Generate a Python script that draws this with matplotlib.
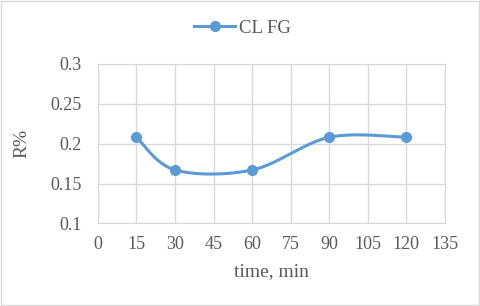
import numpy as np
import matplotlib.pyplot as plt

plt.rcParams['font.family'] = ['Liberation Serif', 'DejaVu Serif']

# data
time_min = [15, 30, 60, 90, 120]
r_pct = [0.208, 0.167, 0.167, 0.208, 0.208]
x_ticks = [0, 15, 30, 45, 60, 75, 90, 105, 120, 135]
y_ticks = [0.1, 0.15, 0.2, 0.25, 0.3]
y_labels = ['0.1', '0.15', '0.2', '0.25', '0.3']


def smooth(xs, ys, n=40):
    # Excel-like smoothed line: cubic Bezier with Catmull-Rom control points
    p = np.column_stack([xs, ys]).astype(float)
    pts = [p[0]]
    for i in range(len(p) - 1):
        p0 = p[i - 1] if i > 0 else p[i]
        p1, p2 = p[i], p[i + 1]
        p3 = p[i + 2] if i + 2 < len(p) else p[i + 1]
        c1 = p1 + (p2 - p0) / 6
        c2 = p2 - (p3 - p1) / 6
        t = np.linspace(0, 1, n)[1:, None]
        seg = ((1 - t) ** 3) * p1 + 3 * ((1 - t) ** 2) * t * c1 + 3 * (1 - t) * t ** 2 * c2 + t ** 3 * p2
        pts.extend(seg)
    pts = np.array(pts)
    return pts[:, 0], pts[:, 1]


fig = plt.figure(figsize=(4.8, 3.06), dpi=100)
ax = fig.add_axes([0.204, 0.27, 0.723, 0.521])

blue = '#5B9BD5'
sx, sy = smooth(time_min, r_pct)
ax.plot(sx, sy, color=blue, lw=2.2, zorder=3)
ax.plot(time_min, r_pct, 'o', color=blue, ms=7, zorder=4)
ax.plot([], [], '-o', color=blue, lw=2.2, ms=7, label='CL FG')

ax.set_xlim(0, 135)
ax.set_ylim(0.1, 0.3)
ax.set_xticks(x_ticks)
ax.set_yticks(y_ticks)
ax.set_yticklabels(y_labels)
ax.grid(True, color='#D9D9D9', lw=1)
ax.set_axisbelow(True)
for s in ax.spines.values():
    s.set_color('#D9D9D9')
ax.tick_params(axis='y', length=0, labelsize=13, colors='#595959', pad=12)
ax.tick_params(axis='x', length=0, labelsize=13, colors='#595959', pad=9)
ax.set_xlabel('time, min', fontsize=14, color='#595959', labelpad=7)
ax.set_ylabel('R%', fontsize=14, color='#595959', labelpad=14)

fig.legend(loc='center', bbox_to_anchor=(0.505, 0.908), frameon=False,
           fontsize=13.5, labelcolor='#595959', handlelength=2.2, handletextpad=0.2)

fig.patches.append(plt.Rectangle((0.002, 0.003), 0.995, 0.994, transform=fig.transFigure,
                                 fill=False, edgecolor='#D9D9D9', lw=1))

fig.savefig('out.png', dpi=100)
